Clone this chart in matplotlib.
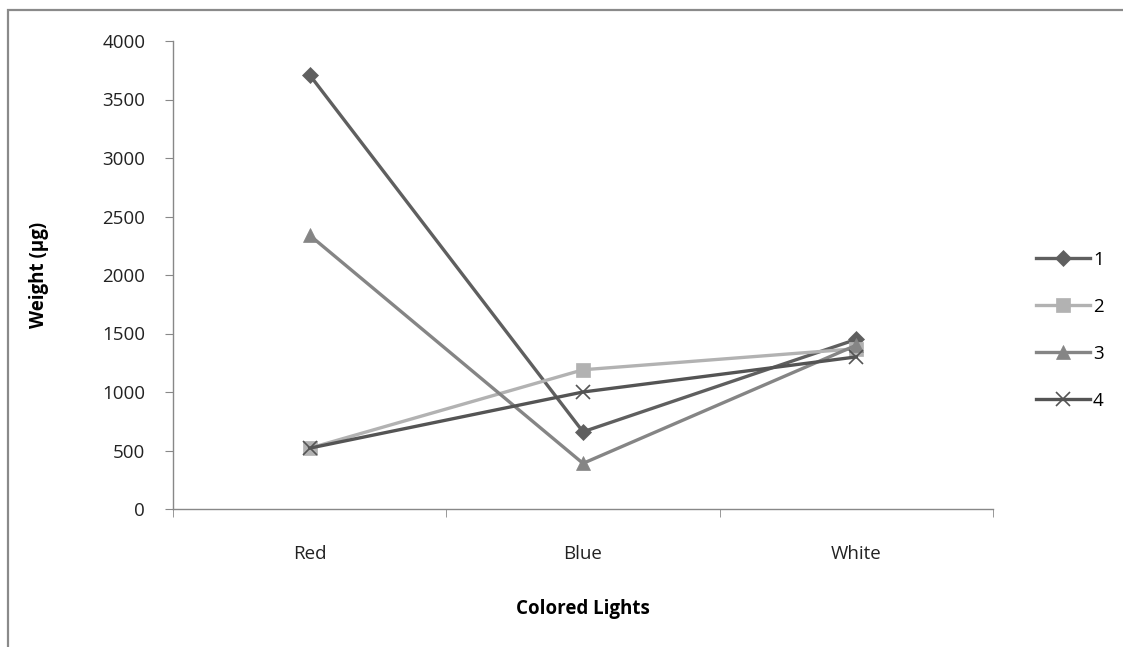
import matplotlib.pyplot as plt
from matplotlib.patches import Rectangle

# %% Data
categories = ['Red', 'Blue', 'White']
series_names = ['1', '2', '3', '4']
s1 = [3710, 660, 1450]
s2 = [520, 1190, 1370]
s3 = [2340, 390, 1400]
s4 = [520, 1000, 1300]
y_ticks = [0, 500, 1000, 1500, 2000, 2500, 3000, 3500, 4000]

# %% Style
plt.rcParams['font.family'] = ['Open Sans', 'DejaVu Sans']
colors  = ['#5f5f5f', '#b2b2b2', '#858585', '#545454']
markers = ['D', 's', '^', 'x']
msizes  = [8, 10, 10, 10]
FS = 13.5

fig = plt.figure(figsize=(11.23, 6.47), dpi=100)
fig.patches.append(Rectangle((8 / 1123, -0.05), 1.2, 1 - 10 / 647 + 0.05,
                             transform=fig.transFigure, fill=False,
                             edgecolor='#8a8a8a', linewidth=1.6))
ax = fig.add_axes([173 / 1123, 1 - 509 / 647, 820 / 1123, 468 / 647])

x = list(range(len(categories)))
for vals, name, c, m, ms in zip([s1, s2, s3, s4], series_names, colors, markers, msizes):
    ax.plot(x, vals, color=c, linewidth=2.4, marker=m, markersize=ms,
            markeredgewidth=1.2 if m == 'x' else 0.5, markeredgecolor=c,
            label=name, solid_joinstyle='miter')

ax.set_xlim(-0.5, 2.5)
ax.set_ylim(0, 4000)
ax.set_yticks(y_ticks)
ax.set_xticks(x)
ax.set_xticklabels(categories)
ax.set_xticks([-0.5, 0.5, 1.5, 2.5], minor=True)
ax.tick_params(axis='x', which='major', length=0, pad=26, labelsize=FS, labelcolor='#222222')
ax.tick_params(axis='x', which='minor', length=6, color='#888888', direction='out')
ax.tick_params(axis='y', length=6, color='#888888', labelsize=FS, pad=14, labelcolor='#222222')

for side in ['top', 'right']:
    ax.spines[side].set_visible(False)
for side in ['left', 'bottom']:
    ax.spines[side].set_color('#888888')
    ax.spines[side].set_linewidth(1.0)

ax.set_ylabel('Weight (µg)', fontsize=FS, fontweight='bold', labelpad=38)
ax.set_xlabel('Colored Lights', fontsize=FS, fontweight='bold', labelpad=26)

ax.legend(loc='center left', bbox_to_anchor=(1.036, 0.382), frameon=False,
          fontsize=FS, handlelength=2.9, handletextpad=0.15, labelspacing=1.55,
          borderpad=0.2)

fig.savefig('out.png', dpi=100)
